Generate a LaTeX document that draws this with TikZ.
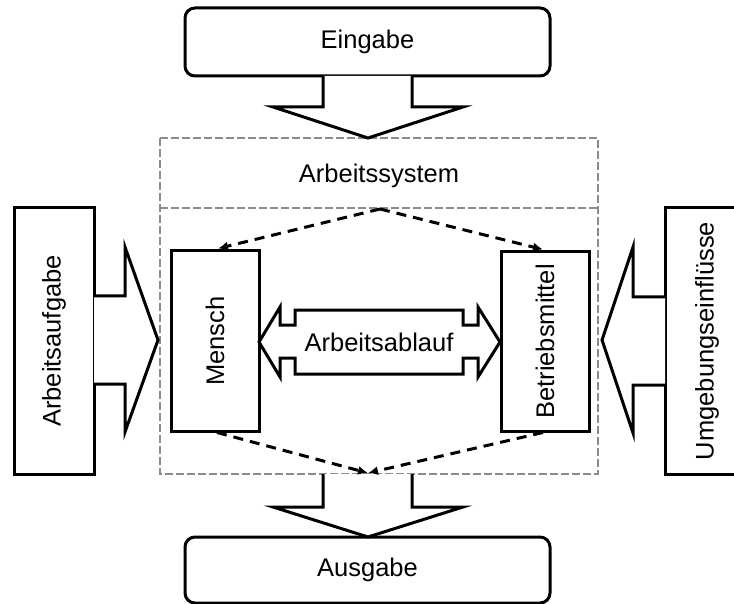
\documentclass[tikz,border=0pt]{standalone}
\usepackage{fontspec}
\setmainfont{Liberation Sans}
\usetikzlibrary{arrows.meta,calc}
\begin{document}
\begin{tikzpicture}[x=1pt,y=-1pt,
  font=\fontsize{25.5}{30}\selectfont,
  box/.style={draw, line width=3pt, inner sep=0pt},
  roundbox/.style={box, rounded corners=10pt},
  blockarrow/.style={draw, line width=3pt, line join=miter, fill=white},
  dashconn/.style={draw, line width=3pt, dash pattern=on 10pt off 7pt, -{Latex[length=10pt,width=9pt]}},
  sysbox/.style={draw=black!45, line width=2.5pt, dash pattern=on 8pt off 3pt}]
\useasboundingbox (0,0) rectangle (734,604);

% system frame
\draw[sysbox] (160,138) rectangle (598,474);
\draw[sysbox] (160,208) -- (598,208);
\node (sys) at (379,176) {Arbeitssystem};

% boxes
\node[roundbox, minimum width=365pt, minimum height=68pt] (ein) at (367.5,42) {Eingabe};
\node[roundbox, minimum width=365pt, minimum height=66pt] (aus) at (367.5,570) {Ausgabe};
\node[box, minimum width=88pt, minimum height=180pt] (mensch) at (215,341) {\rotatebox{90}{Mensch}};
\node[box, minimum width=88pt, minimum height=179pt] (betr) at (545,341.5) {\rotatebox{90}{Betriebsmittel}};
\node[box, minimum width=80pt, minimum height=266pt] (aufg) at (54,341) {\rotatebox{90}{Arbeitsaufgabe}};
\node[box, minimum width=84pt, minimum height=266pt] (umg) at (707,341) {\rotatebox{90}{Umgebungseinflüsse}};

% block arrows
\draw[blockarrow] (323,76) -- (323,107) -- (273,107) -- (368,138) -- (463,107) -- (412,107) -- (412,76);
\draw[blockarrow] (323,474) -- (323,507) -- (273,507) -- (368,537) -- (463,507) -- (412,507) -- (412,474);
\draw[blockarrow] (94,296) -- (125,296) -- (125,247) -- (158,340) -- (125,432) -- (125,384) -- (94,384);
\draw[blockarrow] (665,297) -- (633,297) -- (633,247) -- (602,340) -- (633,433) -- (633,385) -- (665,385);

% double arrow Arbeitsablauf
\draw[blockarrow] (259,342) -- (280,307) -- (280,325) -- (295,325) -- (295,310) -- (463,310)
  -- (463,325) -- (478,325) -- (478,307) -- (500,342) -- (478,377) -- (478,358) -- (463,358)
  -- (463,374) -- (295,374) -- (295,358) -- (280,358) -- (280,377) -- cycle;
\node (ablauf) at (379,342) {Arbeitsablauf};

% dashed connectors
\coordinate (apex) at (380,209);
\coordinate (outp) at (368,473);
\draw[dashconn] (apex) -- ($(mensch.north)+(3,-1)$);
\draw[dashconn] (apex) -- ($(betr.north)+(-2,-1)$);
\draw[dashconn] ($(mensch.south)+(2,0)$) -- (outp);
\draw[dashconn] ($(betr.south)+(-2,0)$) -- (outp);
\end{tikzpicture}
\end{document}
